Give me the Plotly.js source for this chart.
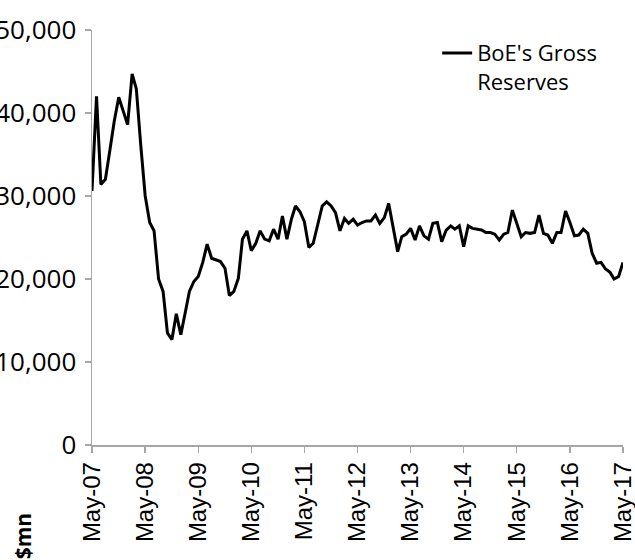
<!DOCTYPE html>
<html>
<head>
<meta charset="utf-8">
<script src="https://cdn.plot.ly/plotly-3.0.1.min.js"></script>
<style>html,body{margin:0;padding:0;background:#fff;}#chart{width:635px;height:560px;}</style>
</head>
<body>
<div id="chart"></div>
<script>
// Monthly series, May-07 to May-17 ($mn)
const startYear = 2007;
const startMonth = 5; // May
const seriesName = "BoE's Gross<br>Reserves";
const reserves = [
  30600, 42000, 31400, 32000, 35500, 39000, 41900, 40300, // May-07 .. Dec-07
  38600, 44700, 42900, 36000, 30000, 26800, 25800, 20000, 18500, 13500, 12700, 15800, // 2008
  13300, 16000, 18500, 19700, 20300, 22000, 24200, 22500, 22300, 22100, 21300, 18000, // 2009
  18500, 20100, 24800, 25800, 23400, 24300, 25800, 24800, 24600, 26000, 24800, 27600, // 2010
  24800, 27200, 28800, 28100, 26900, 23800, 24300, 26500, 28800, 29300, 28800, 28000, // 2011
  25800, 27300, 26700, 27200, 26500, 26800, 27000, 27000, 27700, 26700, 27400, 29100, // 2012
  26000, 23300, 25100, 25400, 26100, 24700, 26400, 25200, 24800, 26700, 26800, 24500, // 2013
  25900, 26400, 26000, 26400, 23900, 26400, 26100, 26000, 25900, 25600, 25600, 25400, // 2014
  24700, 25400, 25600, 28300, 26700, 25100, 25600, 25500, 25600, 27700, 25500, 25300, // 2015
  24300, 25600, 25600, 28200, 26800, 25200, 25300, 26000, 25500, 23100, 21900, 22000, // 2016
  21200, 20800, 20000, 20300, 22000 // Jan-17 .. May-17
];
const yTicks = [0, 10000, 20000, 30000, 40000, 50000];
const yTickText = ["0", "10,000", "20,000", "30,000", "40,000", "50,000"];
const xTickText = ["May-07", "May-08", "May-09", "May-10", "May-11", "May-12",
                   "May-13", "May-14", "May-15", "May-16", "May-17"];
const unitLabel = "$mn";

const dates = reserves.map((v, i) => {
  const mIdx = (startMonth - 1) + i;
  const y = startYear + Math.floor(mIdx / 12);
  const m = (mIdx % 12) + 1;
  return y + "-" + String(m).padStart(2, "0") + "-01";
});
const xTickVals = dates.filter((d, i) => i % 12 === 0);

const trace = {
  x: dates,
  y: reserves,
  type: "scatter",
  mode: "lines",
  name: seriesName,
  line: {color: "#000000", width: 3},
  showlegend: true,
  cliponaxis: false
};

const axisGrey = "#A6A6A6";
const layout = {
  width: 635,
  height: 560,
  margin: {l: 92, r: 12, t: 30, b: 115},
  paper_bgcolor: "#ffffff",
  plot_bgcolor: "#ffffff",
  showlegend: true,
  legend: {
    x: 0.65, y: 0.995, xanchor: "left", yanchor: "top",
    bgcolor: "rgba(0,0,0,0)",
    font: {family: "Open Sans, Noto Sans, sans-serif", size: 22, color: "#000"},
    valign: "top",
    itemwidth: 30
  },
  xaxis: {
    type: "date",
    range: [dates[0], dates[dates.length - 1] + " 04:00"],
    tickmode: "array",
    tickvals: xTickVals,
    ticktext: xTickText,
    tickangle: -90,
    ticks: "outside",
    ticklen: 6,
    tickwidth: 1.5,
    tickcolor: axisGrey,
    showline: true,
    linecolor: axisGrey,
    linewidth: 1.5,
    showgrid: false,
    zeroline: false,
    ticklabeloverflow: "allow",
    tickfont: {family: "'Liberation Sans', Arial, sans-serif", size: 24, color: "#000"}
  },
  yaxis: {
    range: [0, 50000],
    tickvals: yTicks,
    ticktext: yTickText,
    ticks: "outside",
    ticklen: 6,
    tickwidth: 1.5,
    tickcolor: axisGrey,
    showline: true,
    linecolor: axisGrey,
    linewidth: 1.5,
    showgrid: false,
    zeroline: false,
    ticklabelstandoff: 3,
    ticklabeloverflow: "allow",
    tickfont: {family: "'Open Sans', 'Noto Sans', sans-serif", size: 26, color: "#000"}
  },
  annotations: [{
    text: "<b>" + unitLabel + "</b>",
    xref: "paper", yref: "paper",
    x: -0.13, y: -0.22,
    xanchor: "center", yanchor: "middle",
    textangle: -90,
    showarrow: false,
    font: {family: "'Open Sans', 'Noto Sans', sans-serif", size: 21, color: "#000"}
  }]
};

Plotly.newPlot("chart", [trace], layout, {displayModeBar: false, staticPlot: true});
</script>
</body>
</html>
